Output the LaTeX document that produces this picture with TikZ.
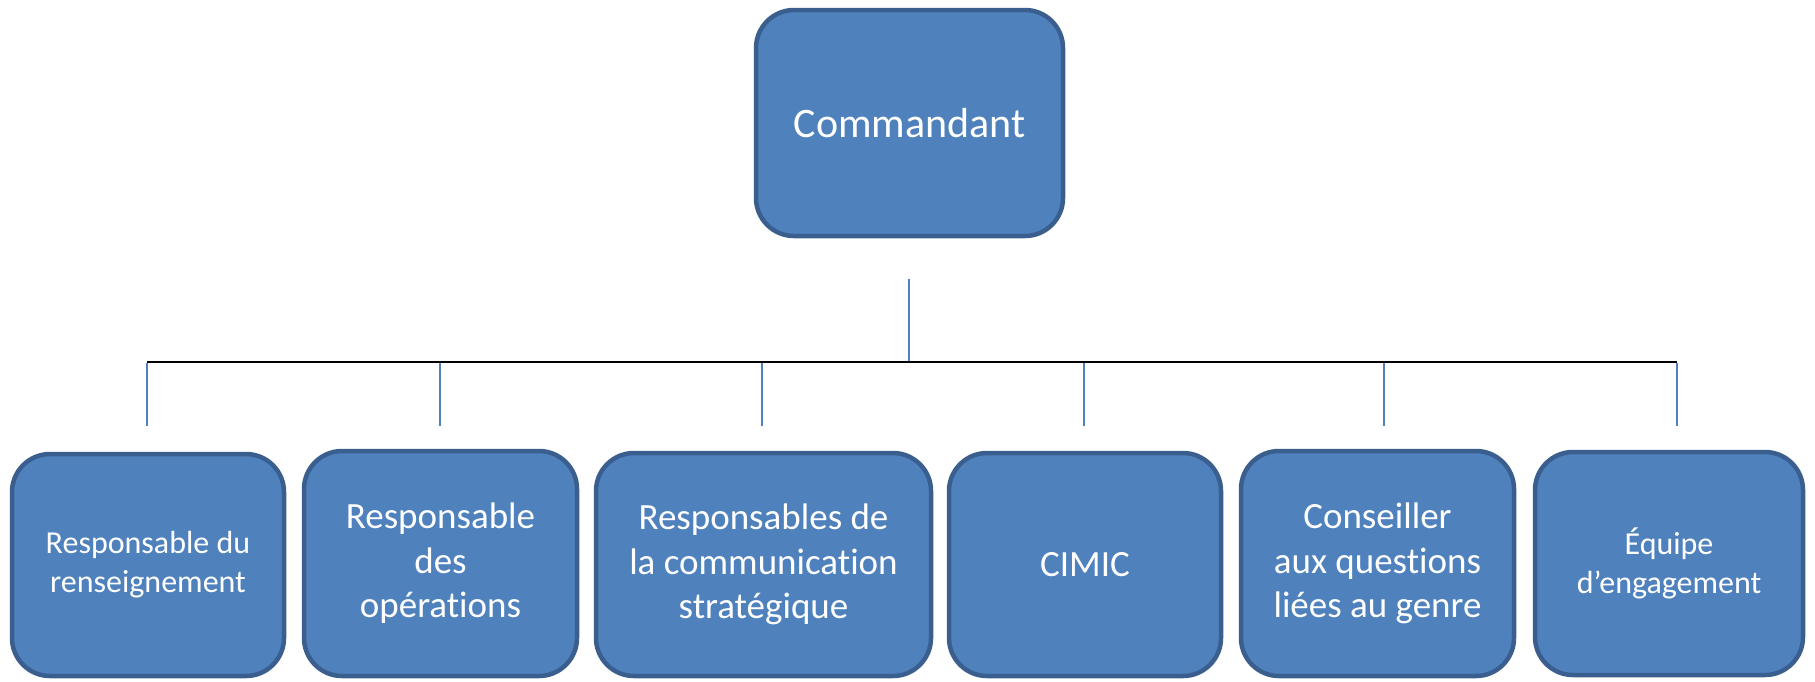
\documentclass[tikz,border=0pt]{standalone}
\usepackage{fontspec}
\setmainfont{Carlito}[Ligatures=NoCommon]
\definecolor{boxfill}{HTML}{4F81BD}
\definecolor{boxline}{HTML}{3A5F8E}
\definecolor{conblue}{HTML}{4F81BD}
\begin{document}
\begin{tikzpicture}[x=1pt,y=-1pt,
  orgbox/.style={draw=boxline, fill=boxfill, line width=4.5pt, rounded corners=38pt,
    text=white, align=center, inner sep=0pt},
  bigtxt/.style={font=\fontsize{42}{50}\selectfont},
  midtxt/.style={font=\fontsize{37}{44.5}\selectfont},
  smalltxt/.style={font=\fontsize{32}{39}\selectfont},
  bluecon/.style={draw=conblue, line width=2pt},
  blackcon/.style={draw=black, line width=2.2pt}]
\useasboundingbox (0,0) rectangle (1815,681);

\node[orgbox, bigtxt, minimum width=307pt, minimum height=226pt] (cmd) at (909.5,123) {Commandant};

\node[orgbox, smalltxt, minimum width=272pt, minimum height=222pt] (b1) at (148,565) {Responsable du\\renseignement};
\node[orgbox, midtxt, minimum width=273pt, minimum height=225pt] (b2) at (440.5,563.5) {Responsable\\des\\opérations};
\node[orgbox, midtxt, minimum width=335pt, minimum height=223pt] (b3) at (763.5,564.5) {Responsables de\\la communication\\stratégique};
\node[orgbox, midtxt, minimum width=272pt, minimum height=223pt] (b4) at (1085,564.5) {CIMIC};
\node[orgbox, midtxt, minimum width=273pt, minimum height=225pt] (b5) at (1377.5,563.5) {Conseiller\\aux questions\\liées au genre};
\node[orgbox, smalltxt, minimum width=268pt, minimum height=223pt] (b6) at (1669,563.5) {Équipe\\d’engagement};

\coordinate (ctop) at (909,279);
\coordinate (cbar) at (909,362);
\coordinate (hl) at (147,362);
\coordinate (hr) at (1677,362);
\foreach \n/\x in {1/147,2/440,3/762,4/1084,5/1384,6/1677}{
  \coordinate (d\n t) at (\x,363);
  \coordinate (d\n b) at (\x,426);
}

\draw[bluecon] (ctop) -- (cbar);
\draw[blackcon] (hl) -- (hr);
\foreach \n in {1,...,6}{
  \draw[bluecon] (d\n t) -- (d\n b);
}
\end{tikzpicture}
\end{document}
